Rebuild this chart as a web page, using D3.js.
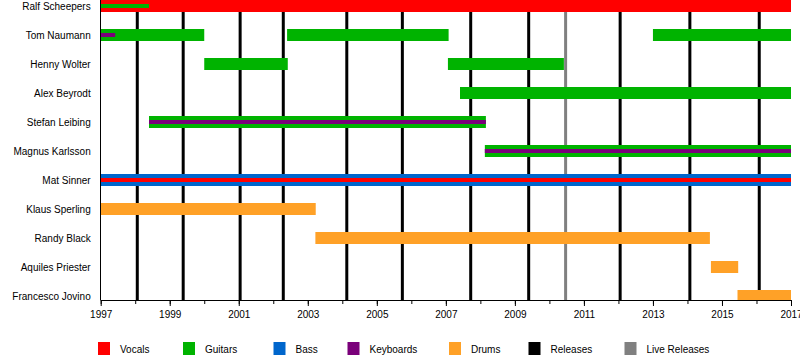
<!DOCTYPE html>
<html>
<head>
<meta charset="utf-8">
<script src="https://cdn.jsdelivr.net/npm/d3@7/dist/d3.min.js"></script>
<style>
  html, body { margin: 0; padding: 0; background: #fff; }
  svg { display: block; font-family: "Liberation Sans", Arial, Helvetica, sans-serif; }
</style>
</head>
<body>
<svg id="chart" width="800" height="360"></svg>
<script>
// ---------- DATA ----------
const members = ["Ralf Scheepers", "Tom Naumann", "Henny Wolter", "Alex Beyrodt",
  "Stefan Leibing", "Magnus Karlsson", "Mat Sinner", "Klaus Sperling",
  "Randy Black", "Aquiles Priester", "Francesco Jovino"];

const roles = ["Vocals", "Guitars", "Bass", "Keyboards", "Drums", "Releases", "Live Releases"];
const roleColors = ["#ff0000", "#00b300", "#0066cc", "#7a007a", "#ffa127", "#000000", "#808080"];

// primary roles: [member, role, start, end]
const primaryPeriods = [
  ["Ralf Scheepers", "Vocals", 1997, 2017],
  ["Tom Naumann", "Guitars", 1997, 2000],
  ["Tom Naumann", "Guitars", 2002.4, 2007.08],
  ["Tom Naumann", "Guitars", 2013, 2017],
  ["Henny Wolter", "Guitars", 2000, 2002.42],
  ["Henny Wolter", "Guitars", 2007.06, 2010.42],
  ["Alex Beyrodt", "Guitars", 2007.41, 2017],
  ["Stefan Leibing", "Guitars", 1998.4, 2008.16],
  ["Magnus Karlsson", "Guitars", 2008.13, 2017],
  ["Mat Sinner", "Bass", 1997, 2017],
  ["Klaus Sperling", "Drums", 1997, 2003.23],
  ["Randy Black", "Drums", 2003.22, 2014.65],
  ["Aquiles Priester", "Drums", 2014.68, 2015.47],
  ["Francesco Jovino", "Drums", 2015.45, 2017]
];

// secondary roles (drawn as thin overlay): [member, role, start, end]
const secondaryPeriods = [
  ["Ralf Scheepers", "Guitars", 1997, 1998.4],
  ["Tom Naumann", "Keyboards", 1997, 1997.42],
  ["Stefan Leibing", "Keyboards", 1998.4, 2008.16],
  ["Magnus Karlsson", "Keyboards", 2008.13, 2017],
  ["Mat Sinner", "Vocals", 1997, 2017]
];

const studioReleases = [1998.06, 1999.39, 2001.04, 2002.29, 2004.13, 2005.74,
  2007.72, 2009.4, 2012.05, 2014.07, 2016.08];
const liveReleases = [2010.47];

const yearStart = 1997, yearEnd = 2017;
const labeledYears = d3.range(1997, 2018, 2);
const allYears = d3.range(1997, 2018, 1);

// ---------- LAYOUT ----------
const svg = d3.select("#chart");
const plotLeft = 100.7, plotRight = 791, firstRow = 6, lastRow = 296, axisY = 300;

const x = d3.scaleLinear().domain([yearStart, yearEnd]).range([plotLeft, plotRight]);
const y = d3.scalePoint().domain(members).range([firstRow, lastRow]);
const color = d3.scaleOrdinal().domain(roles).range(roleColors);

const thick = 12, thin = 4;

svg.append("defs").append("clipPath").attr("id", "plotclip")
  .append("rect").attr("x", plotLeft).attr("y", 0).attr("width", plotRight - plotLeft).attr("height", axisY);

const plot = svg.append("g").attr("clip-path", "url(#plotclip)");

// release lines
plot.selectAll("line.rel").data(studioReleases).join("line")
  .attr("class", "rel")
  .attr("x1", d => x(d)).attr("x2", d => x(d))
  .attr("y1", 0).attr("y2", axisY)
  .attr("stroke", color("Releases")).attr("stroke-width", 3);

plot.selectAll("line.live").data(liveReleases).join("line")
  .attr("class", "live")
  .attr("x1", d => x(d)).attr("x2", d => x(d))
  .attr("y1", 0).attr("y2", axisY)
  .attr("stroke", color("Live Releases")).attr("stroke-width", 3);

// primary bars
plot.selectAll("rect.pri").data(primaryPeriods).join("rect")
  .attr("class", "pri")
  .attr("x", d => x(d[2])).attr("width", d => x(d[3]) - x(d[2]))
  .attr("y", d => y(d[0]) - thick / 2).attr("height", thick)
  .attr("fill", d => color(d[1]));

// secondary bars
plot.selectAll("rect.sec").data(secondaryPeriods).join("rect")
  .attr("class", "sec")
  .attr("x", d => x(d[2])).attr("width", d => x(d[3]) - x(d[2]))
  .attr("y", d => y(d[0]) - thin / 2).attr("height", thin)
  .attr("fill", d => color(d[1]));

// x axis: minor ticks
const minorAxis = d3.axisBottom(x).tickValues(allYears).tickSize(4).tickFormat("");
svg.append("g").attr("transform", `translate(0,${axisY})`).call(minorAxis)
  .call(g => g.select(".domain").remove())
  .call(g => g.selectAll(".tick line").attr("stroke", "#000"));

const majorAxis = d3.axisBottom(x).tickValues(labeledYears).tickSize(6).tickPadding(5)
  .tickFormat(d3.format("d"));
const gx = svg.append("g").attr("transform", `translate(0,${axisY})`).call(majorAxis);
gx.select(".domain").attr("d", `M${plotLeft},0.5H${plotRight}`).attr("stroke", "#000");
gx.selectAll(".tick line").attr("stroke", "#000");
gx.selectAll(".tick text").attr("font-size", 10).attr("fill", "#000")
  .attr("font-family", "'Liberation Sans', Arial, sans-serif");

// y axis
const yAxis = d3.axisLeft(y).tickSize(0).tickPadding(10);
const gy = svg.append("g").attr("transform", `translate(${plotLeft},0)`).call(yAxis);
gy.select(".domain").attr("d", `M-0.2,0V${axisY}`).attr("stroke", "#000");
gy.selectAll(".tick text").attr("font-size", 10).attr("fill", "#000")
  .attr("font-family", "'Liberation Sans', Arial, sans-serif");

// legend
let lx = 98;
const legendItems = roles.map(r => {
  const item = { name: r, x: lx };
  lx += 52 + 5.5 * r.length;
  return item;
});
const lg = svg.append("g").selectAll("g").data(legendItems).join("g")
  .attr("transform", d => `translate(${d.x},342)`);
lg.append("rect").attr("width", 12).attr("height", 13).attr("fill", d => color(d.name));
lg.append("text").attr("x", 22).attr("y", 10.5).attr("font-size", 10).attr("fill", "#000")
  .text(d => d.name);
</script>
</body>
</html>
